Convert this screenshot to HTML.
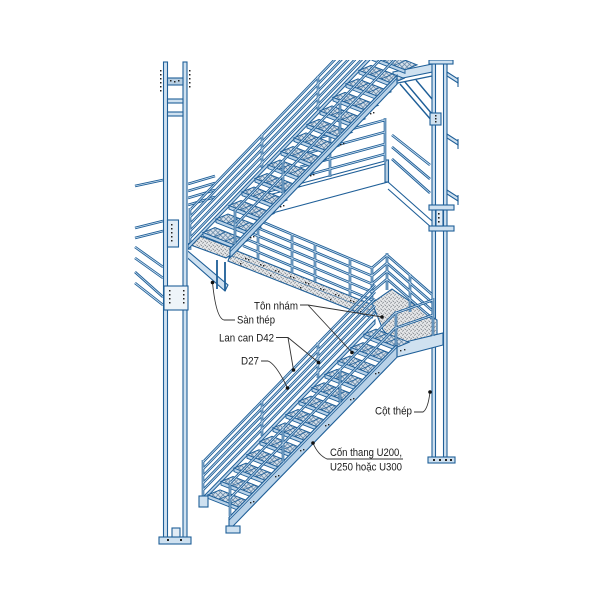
<!DOCTYPE html>
<html><head><meta charset="utf-8">
<style>
html,body{margin:0;padding:0;background:#fff;}
svg{display:block;}
text{font-family:"Liberation Sans",Arial,sans-serif;font-size:11px;fill:#1a1a1a;}
</style></head><body>
<svg width="600" height="600" viewBox="0 0 600 600" xmlns="http://www.w3.org/2000/svg" xmlns:xlink="http://www.w3.org/1999/xlink">
<defs>
<pattern id="dp" width="4" height="4" patternUnits="userSpaceOnUse">
<rect width="4" height="4" fill="#e4e6e8"/>
<path d="M0.4,0.6 l1.6,1.2 M2.4,3.6 l1.2,-1.6" stroke="#7d8288" stroke-width="0.8"/>
</pattern>
<pattern id="gp" width="5" height="5" patternUnits="userSpaceOnUse">
<rect width="5" height="5" fill="#d6e0ea"/>
<path d="M0,0 L5,5 M5,0 L0,5" stroke="#5b7fa2" stroke-width="0.7"/>
</pattern>
<clipPath id="cp"><rect x="0" y="60" width="600" height="540"/></clipPath>

<path id="tBack" d="M300,143L385,120 M300,155L385,132 M300,167L385,144 M300,177L385,154 M330,135V177 M385,118V162 M392,135L430,165 M392,147L430,179 M392,159L430,193 M135,186L163,180 M135,228L163,221 M135,238L163,231 M135,247L163,267 M135,258L163,278 M135,272L163,297 M135,283L163,305 M188,184L215,176 M188,191L215,183 M188,198L215,190 M188,205L215,197"/>

<path id="tWalk" d="M243,213.7L372,267.9L387,255L432,294.4 M243,221.7L372,275.9L387,263L432,302.4 M243,229.7L372,283.9L387,271L432,310.4 M243,237.7L372,291.9L387,279L432,318.4 M243,245.7L372,299.9 M258,220V259.3 M292,234.3V272.8 M315,243.9V282 M350,258.6V295.8 M372,267.9V304.6 M387,253V290 M410,274V312"/>

<path id="tUpO" d="M190,210L336.3,58 M190,217L343,58 M190,224L349.8,58 M190,231L356.5,58 M190,238L363.2,58 M190,208V250 M262,134V168 M318,76V110"/>
<path id="tUpI" d="M235,210.6L381.8,58 M235,225.6L396.2,58 M235,209V244 M283,160V194 M340,100V134"/>

<path id="tLoO" d="M203,462L375,284.8 M203,469L375,291.8 M203,476L375,298.8 M203,483L375,305.8 M203,490L375,312.8 M203,460V497 M262,400V436 M318,342V378"/>
<path id="tLoI" d="M230,483.2L395,313.2L433,300 M230,498.2L395,328.2L433,315 M230,481V516 M283,427V462 M340,368V403 M433,298V336 M396,311V345"/>

<g id="tr">
<polygon points="0,0 33,13 45,8 12,-5" fill="url(#gp)" stroke="#1f5f98" stroke-width="1"/>
<polygon points="0,0 33,13 33,16.5 0,3.5" fill="#b9d2e8" stroke="#1f5f98" stroke-width="0.9"/>
<path d="M11,4.3 L23,-0.7 M22,8.6 L34,3.6" stroke="#1f5f98" stroke-width="0.8" fill="none"/>
</g>
</defs>

<rect width="600" height="600" fill="#fff"/>

<g clip-path="url(#cp)">
<!-- back landing beam -->
<g fill="none" stroke="#1f5f98" stroke-width="1.1">
<path d="M265,193L385,161 M265,215L388,182 M265,196L385,164"/>
<path d="M388,182L432,221 M388,189L432,228"/>
<rect x="385" y="160" width="3.5" height="22" fill="#b8cfe2"/>
</g>
<use xlink:href="#tBack" stroke="#1f5f98" stroke-width="2.6" fill="none"/>
<use xlink:href="#tBack" stroke="#d2e4f3" stroke-width="0.8" fill="none"/>

<!-- top beam -->
<g stroke="#1f5f98" stroke-width="1.1" fill="#cfe1f0">
<polygon points="393,72 447,61 447,69 393,80"/>
<path d="M393,84L432,76 M400,84L432,121 M405,82L432,114 M416,80L432,99" fill="none" stroke-width="1.4"/>
</g>

<!-- right column -->
<g stroke="#1f5f98" stroke-width="1.1">
<rect x="432" y="62" width="15" height="400" fill="#fff" stroke="none"/>
<rect x="432" y="62" width="3.5" height="400" fill="#cfe1f0"/>
<rect x="443.5" y="62" width="3.5" height="400" fill="#cfe1f0"/>
<rect x="429" y="60" width="24" height="4" fill="#cfe1f0"/>
<polygon points="447,72 458,79 458,83 447,76" fill="#cfe1f0"/>
<polygon points="447,134 458,141 458,145 447,138" fill="#cfe1f0"/>
<polygon points="447,190 458,197 458,201 447,194" fill="#cfe1f0"/>
<path d="M458,77V87 M458,139V149 M458,195V205" fill="none"/>
<rect x="430" y="113" width="11" height="12" fill="#cfe1f0"/>
<rect x="429" y="205" width="25" height="5" fill="#cfe1f0"/>
<rect x="429" y="226" width="25" height="5" fill="#cfe1f0"/>
<rect x="436" y="210" width="7" height="16" fill="#e2ecf5"/>
<rect x="428" y="457" width="27" height="6" fill="#cfe1f0"/>
</g>
<g fill="#222">
<rect x="435" y="115" width="1.5" height="1.5"/><rect x="435" y="118" width="1.5" height="1.5"/><rect x="435" y="121" width="1.5" height="1.5"/>
<rect x="438" y="213" width="1.6" height="1.6"/><rect x="438" y="217" width="1.6" height="1.6"/><rect x="438" y="221" width="1.6" height="1.6"/>
<rect x="433" y="459" width="2" height="2"/><rect x="439" y="459" width="2" height="2"/><rect x="445" y="459" width="2" height="2"/><rect x="450" y="459" width="2" height="2"/>
</g>

<!-- walkway band -->
<polygon points="232,249 378,307 372,318 228,261" fill="url(#dp)" stroke="#1f5f98" stroke-width="1.1"/>
<path d="M230,255L375,312" stroke="#1f5f98" stroke-width="0.6" fill="none"/>
<g fill="#222">
<rect x="245" y="258" width="1.4" height="1.4"/><rect x="248" y="259" width="1.4" height="1.4"/>
<rect x="260" y="264" width="1.4" height="1.4"/><rect x="263" y="265" width="1.4" height="1.4"/>
<rect x="275" y="270" width="1.4" height="1.4"/><rect x="278" y="271" width="1.4" height="1.4"/>
<rect x="290" y="276" width="1.4" height="1.4"/><rect x="293" y="277" width="1.4" height="1.4"/>
<rect x="305" y="282" width="1.4" height="1.4"/><rect x="308" y="283" width="1.4" height="1.4"/>
<rect x="320" y="288" width="1.4" height="1.4"/><rect x="323" y="289" width="1.4" height="1.4"/>
<rect x="335" y="294" width="1.4" height="1.4"/><rect x="338" y="295" width="1.4" height="1.4"/>
<rect x="350" y="300" width="1.4" height="1.4"/><rect x="353" y="301" width="1.4" height="1.4"/>
<rect x="240" y="263" width="1.4" height="1.4"/><rect x="270" y="275" width="1.4" height="1.4"/><rect x="300" y="287" width="1.4" height="1.4"/><rect x="330" y="299" width="1.4" height="1.4"/><rect x="360" y="311" width="1.4" height="1.4"/>
</g>

<!-- right landing floor -->
<polygon points="372,303 392,289 437,320 437,337 400,348 383,330" fill="url(#dp)" stroke="#1f5f98" stroke-width="1.1"/>

<use xlink:href="#tWalk" stroke="#1f5f98" stroke-width="2.6" fill="none"/>
<use xlink:href="#tWalk" stroke="#d2e4f3" stroke-width="0.8" fill="none"/>

<!-- left landing floor + beam -->
<polygon points="188,244 200,236 238,250 226,258" fill="url(#dp)" stroke="#1f5f98" stroke-width="1.1"/>
<g stroke="#1f5f98" stroke-width="1.1" fill="#cfe1f0">
<polygon points="183,247 228,285 225,291 183,254"/>
<path d="M217,260V289 M225,262V291" fill="none" stroke-width="1.8"/>
</g>

<!-- upper flight -->
<use xlink:href="#tUpO" stroke="#1f5f98" stroke-width="2.6" fill="none"/>
<use xlink:href="#tUpO" stroke="#d2e4f3" stroke-width="0.8" fill="none"/>
<polygon points="188,245.2 368,58 372,58 188,249.2" fill="#b9d2e8" stroke="#1f5f98" stroke-width="1"/>
<use xlink:href="#tr" x="372" y="56.84"/>
<use xlink:href="#tr" x="359" y="70.36"/>
<use xlink:href="#tr" x="346" y="83.88"/>
<use xlink:href="#tr" x="333" y="97.4"/>
<use xlink:href="#tr" x="320" y="110.92"/>
<use xlink:href="#tr" x="307" y="124.44"/>
<use xlink:href="#tr" x="294" y="137.96"/>
<use xlink:href="#tr" x="281" y="151.48"/>
<use xlink:href="#tr" x="268" y="165"/>
<use xlink:href="#tr" x="255" y="178.52"/>
<use xlink:href="#tr" x="242" y="192.04"/>
<use xlink:href="#tr" x="229" y="205.56"/>
<use xlink:href="#tr" x="216" y="219.08"/>
<use xlink:href="#tr" x="203" y="232.6"/>
<polygon points="230,248.8 397,75.2 397,84.2 230,257.8" fill="#b9d2e8" stroke="#1f5f98" stroke-width="1.1"/>
<path d="M230,251.8L397,78.2" stroke="#1f5f98" stroke-width="0.8" fill="none"/>
<g fill="#222">
<rect x="250" y="237" width="1.4" height="1.4"/><rect x="253" y="236" width="1.4" height="1.4"/>
<rect x="280" y="206" width="1.4" height="1.4"/><rect x="283" y="205" width="1.4" height="1.4"/>
<rect x="310" y="175" width="1.4" height="1.4"/><rect x="313" y="174" width="1.4" height="1.4"/>
<rect x="340" y="144" width="1.4" height="1.4"/><rect x="343" y="143" width="1.4" height="1.4"/>
<rect x="370" y="113" width="1.4" height="1.4"/><rect x="373" y="112" width="1.4" height="1.4"/>
</g>
<use xlink:href="#tUpI" stroke="#1f5f98" stroke-width="2.6" fill="none"/>
<use xlink:href="#tUpI" stroke="#d2e4f3" stroke-width="0.8" fill="none"/>

<!-- left column -->
<g stroke="#1f5f98" stroke-width="1.1">
<rect x="163" y="62" width="25" height="481" fill="#fff" stroke="none"/>
<rect x="163.5" y="62" width="4" height="481" fill="#cfe1f0"/>
<rect x="183" y="62" width="4" height="481" fill="#cfe1f0"/>
<rect x="167.5" y="99" width="15.5" height="4" fill="#cfe1f0"/>
<rect x="167.5" y="112" width="15.5" height="4" fill="#cfe1f0"/>
<rect x="167.5" y="78" width="15.5" height="7" fill="#b8cfe2"/>
<rect x="167.5" y="220" width="11" height="27" fill="#e2ecf5"/>
<rect x="164" y="286" width="24" height="24" fill="#eef4f9"/>
<rect x="159" y="537" width="32" height="7" fill="#cfe1f0"/>
<rect x="172" y="528" width="8" height="9" fill="#e2ecf5"/>
</g>
<g fill="#222">
<rect x="160" y="70" width="1.5" height="1.5"/><rect x="160" y="74" width="1.5" height="1.5"/><rect x="160" y="78" width="1.5" height="1.5"/><rect x="160" y="82" width="1.5" height="1.5"/><rect x="160" y="86" width="1.5" height="1.5"/><rect x="160" y="90" width="1.5" height="1.5"/>
<rect x="189" y="70" width="1.5" height="1.5"/><rect x="189" y="74" width="1.5" height="1.5"/><rect x="189" y="78" width="1.5" height="1.5"/><rect x="189" y="82" width="1.5" height="1.5"/><rect x="189" y="86" width="1.5" height="1.5"/>
<rect x="170" y="80" width="1.5" height="1.5"/><rect x="174" y="81" width="1.5" height="1.5"/><rect x="178" y="80" width="1.5" height="1.5"/>
<rect x="171" y="224" width="1.5" height="1.5"/><rect x="171" y="228" width="1.5" height="1.5"/><rect x="171" y="232" width="1.5" height="1.5"/><rect x="171" y="236" width="1.5" height="1.5"/><rect x="171" y="240" width="1.5" height="1.5"/>
<rect x="169" y="290" width="1.5" height="1.5"/><rect x="169" y="294" width="1.5" height="1.5"/><rect x="169" y="298" width="1.5" height="1.5"/><rect x="169" y="302" width="1.5" height="1.5"/>
<rect x="183" y="290" width="1.5" height="1.5"/><rect x="183" y="294" width="1.5" height="1.5"/><rect x="183" y="298" width="1.5" height="1.5"/><rect x="183" y="302" width="1.5" height="1.5"/>
<rect x="167" y="539" width="2" height="2"/><rect x="180" y="539" width="2" height="2"/>
</g>

<!-- right landing beam -->
<polygon points="397,344 443,333 443,345 397,357" fill="#cfe1f0" stroke="#1f5f98" stroke-width="1.1"/>

<!-- lower flight -->
<use xlink:href="#tLoO" stroke="#1f5f98" stroke-width="2.6" fill="none"/>
<use xlink:href="#tLoO" stroke="#d2e4f3" stroke-width="0.8" fill="none"/>
<polygon points="200,500.1 375,319.8 375,323.8 200,504.1" fill="#b9d2e8" stroke="#1f5f98" stroke-width="1"/>
<use xlink:href="#tr" x="364" y="334.22"/>
<use xlink:href="#tr" x="351" y="347.61"/>
<use xlink:href="#tr" x="338" y="361"/>
<use xlink:href="#tr" x="325" y="374.39"/>
<use xlink:href="#tr" x="312" y="387.78"/>
<use xlink:href="#tr" x="299" y="401.17"/>
<use xlink:href="#tr" x="286" y="414.56"/>
<use xlink:href="#tr" x="273" y="427.95"/>
<use xlink:href="#tr" x="260" y="441.34"/>
<use xlink:href="#tr" x="247" y="454.73"/>
<use xlink:href="#tr" x="234" y="468.12"/>
<use xlink:href="#tr" x="221" y="481.51"/>
<use xlink:href="#tr" x="208" y="494.9"/>
<polygon points="229,517.2 397,344.2 397,357.2 229,530.2" fill="#b9d2e8" stroke="#1f5f98" stroke-width="1.1"/>
<path d="M229,520.2L397,347.2" stroke="#1f5f98" stroke-width="0.8" fill="none"/>
<g stroke="#1f5f98" stroke-width="1.1" fill="#cfe1f0">
<rect x="226" y="526" width="14" height="7"/>
<rect x="199" y="496" width="9" height="11"/>
</g>
<g fill="#222">
<rect x="250" y="502" width="1.4" height="1.4"/><rect x="253" y="501" width="1.4" height="1.4"/>
<rect x="275" y="476" width="1.4" height="1.4"/><rect x="278" y="475" width="1.4" height="1.4"/>
<rect x="300" y="450" width="1.4" height="1.4"/><rect x="303" y="449" width="1.4" height="1.4"/>
<rect x="325" y="425" width="1.4" height="1.4"/><rect x="328" y="424" width="1.4" height="1.4"/>
<rect x="350" y="399" width="1.4" height="1.4"/><rect x="353" y="398" width="1.4" height="1.4"/>
<rect x="375" y="373" width="1.4" height="1.4"/><rect x="378" y="372" width="1.4" height="1.4"/>
<rect x="400" y="350" width="1.4" height="1.4"/><rect x="404" y="349" width="1.4" height="1.4"/>
</g>
<use xlink:href="#tLoI" stroke="#1f5f98" stroke-width="2.6" fill="none"/>
<use xlink:href="#tLoI" stroke="#d2e4f3" stroke-width="0.8" fill="none"/>
</g>

<!-- leaders -->
<g stroke="#333" stroke-width="0.9" fill="none">
<path d="M300,305 H308 L382,317 M308,305 L352,352.5"/>
<path d="M235,320 H224 Q216,318 212.5,282.5"/>
<path d="M276,337.5 H288 L293.5,370 M288,337.5 L318.5,362.5"/>
<path d="M261,361 H268 Q276,364 287.5,388"/>
<path d="M414,412 H423 Q428,409 430,392"/>
<path d="M403,459 H327 Q318,455 313,443"/>
</g>
<g fill="#111">
<circle cx="382" cy="317" r="1.8"/>
<circle cx="352" cy="352.5" r="1.8"/>
<circle cx="212.5" cy="282.5" r="1.8"/>
<circle cx="293.5" cy="370" r="1.8"/>
<circle cx="318.5" cy="362.5" r="1.8"/>
<circle cx="287.5" cy="388" r="1.8"/>
<circle cx="430" cy="392" r="1.8"/>
<circle cx="313" cy="443" r="1.8"/>
</g>

<!-- labels -->
<text x="254" y="309.5" textLength="44" lengthAdjust="spacingAndGlyphs">Tôn nhám</text>
<text x="237" y="323.5" textLength="38" lengthAdjust="spacingAndGlyphs">Sàn thép</text>
<text x="219" y="341.5" textLength="55" lengthAdjust="spacingAndGlyphs">Lan can D42</text>
<text x="241" y="364.5" textLength="18" lengthAdjust="spacingAndGlyphs">D27</text>
<text x="375" y="414.5" textLength="37" lengthAdjust="spacingAndGlyphs">Cột thép</text>
<text x="330" y="456" textLength="72" lengthAdjust="spacingAndGlyphs">Cốn thang U200,</text>
<text x="330" y="470.5" textLength="72" lengthAdjust="spacingAndGlyphs">U250 hoặc U300</text>
</svg>
</body></html>
